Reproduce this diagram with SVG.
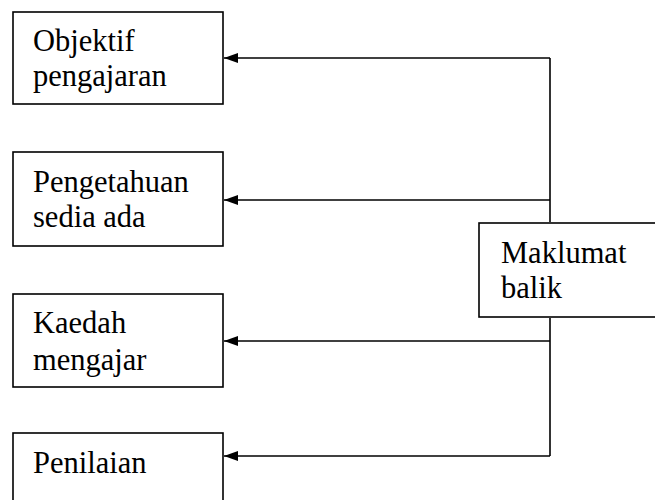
<svg xmlns="http://www.w3.org/2000/svg" width="655" height="500" viewBox="0 0 655 500">
<style>
.box{fill:#fff;stroke:#000;stroke-width:1.6}
text{font-family:"Liberation Serif","Times New Roman",serif;font-size:30.5px;fill:#000}
.c{fill:none;stroke:#000;stroke-width:1.6}
</style>
<defs>
<marker id="ah" viewBox="0 0 14 10" refX="14" refY="5" markerWidth="14" markerHeight="11" markerUnits="userSpaceOnUse" orient="auto">
<path d="M0,0 L14,5 L0,10 Z" fill="#000"/>
</marker>
</defs>
<rect width="655" height="500" fill="#fff"/>
<g id="objektif">
<rect class="box" x="13" y="12" width="210" height="92"/>
<text x="33" y="51">Objektif</text>
<text x="33" y="86">pengajaran</text>
</g>
<g id="pengetahuan">
<rect class="box" x="13" y="152" width="210" height="94"/>
<text x="33" y="192">Pengetahuan</text>
<text x="33" y="227">sedia ada</text>
</g>
<g id="kaedah">
<rect class="box" x="13" y="294" width="210" height="93"/>
<text x="33" y="333">Kaedah</text>
<text x="33" y="370">mengajar</text>
</g>
<g id="penilaian">
<rect class="box" x="13" y="433" width="210" height="80"/>
<text x="33" y="473">Penilaian</text>
</g>
<g id="maklumat">
<rect class="box" x="479" y="223" width="200" height="94"/>
<text x="501" y="263">Maklumat</text>
<text x="501" y="298">balik</text>
</g>
<g id="connectors">
<path class="c" d="M550,58 V222"/>
<path class="c" d="M550,318 V456"/>
<path class="c" d="M550,58 H224" marker-end="url(#ah)"/>
<path class="c" d="M550,200 H224" marker-end="url(#ah)"/>
<path class="c" d="M550,341 H224" marker-end="url(#ah)"/>
<path class="c" d="M550,456 H224" marker-end="url(#ah)"/>
</g>
</svg>
